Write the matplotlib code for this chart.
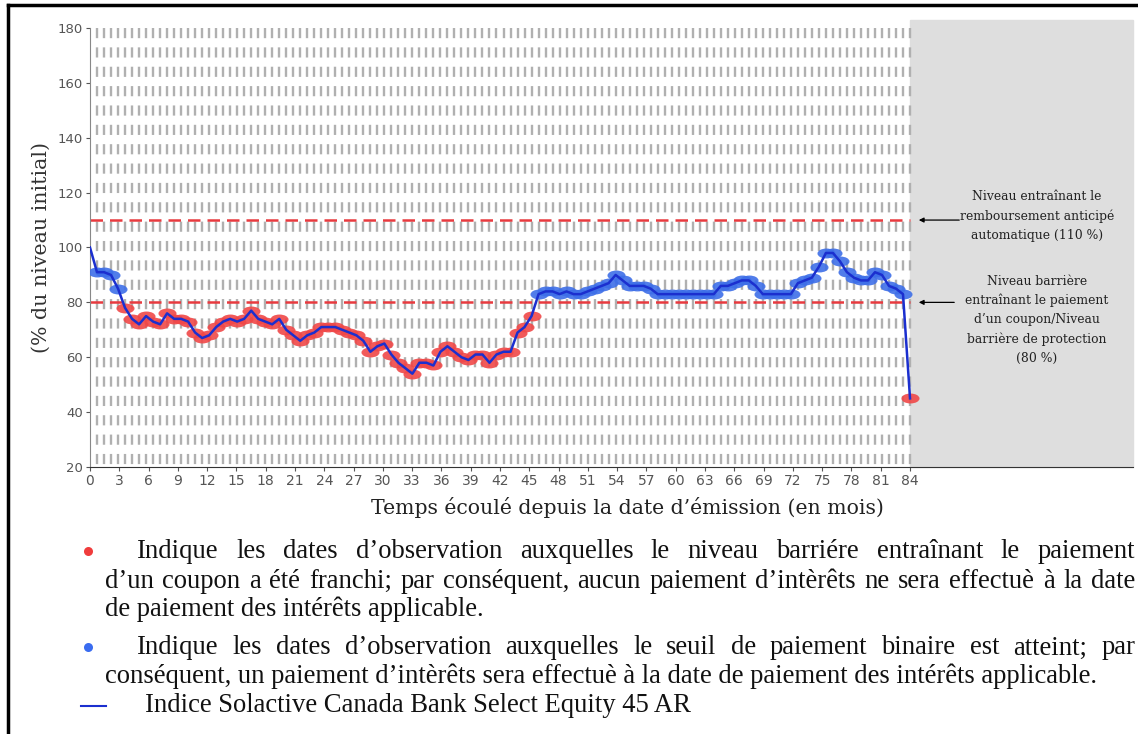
#recreation of the index performance chart (barrier / autocall levels)

import matplotlib
matplotlib.use("Agg")
import matplotlib.pyplot as plt
from matplotlib.path import Path
from matplotlib.transforms import Affine2D
from matplotlib.markers import MarkerStyle
from matplotlib.lines import Line2D
import numpy as np

#index level (% of initial level), start value then one value per observation date
start_value = 100
obs_values = [91, 91, 90, 85, 78, 74, 72, 75, 73, 72,
              76, 74, 74, 73, 69, 67, 68, 71, 73, 74,
              73, 74, 77, 74, 73, 72, 74, 70, 68, 66,
              68, 69, 71, 71, 71, 70, 69, 68, 66, 62,
              64, 65, 61, 58, 56, 54, 58, 58, 57, 62,
              64, 62, 60, 59, 61, 61, 58, 61, 62, 62,
              69, 71, 75, 83, 84, 84, 83, 84, 83, 83,
              84, 85, 86, 87, 90, 88, 86, 86, 86, 85,
              83, 83, 83, 83, 83, 83, 83, 83, 83, 86,
              86, 87, 88, 88, 86, 83, 83, 83, 83, 83,
              87, 88, 89, 93, 98, 98, 95, 91, 89, 88,
              88, 91, 90, 86, 85, 83, 45]

term_months = 84
barrier = 80
autocall = 110
x_ticks = list(range(0, 85, 3))
y_ticks = list(range(20, 181, 20))

n_obs = len(obs_values)
obs_months = np.arange(1, n_obs + 1) * term_months / n_obs
vals = np.array(obs_values)

W, H = 1138, 734
fig = plt.figure(figsize=(W / 100, H / 100), dpi=100)
ax = fig.add_axes([90 / W, 1 - 467 / H, (1133 - 90) / W, (467 - 28) / H])

x_max = (1133 - 90) / 9.762
ax.set_xlim(0, x_max)
ax.set_ylim(20, 180)

#grey zone after maturity
ax.axvspan(term_months, x_max, ymin=0, ymax=1.018, color="#dedede", zorder=0, clip_on=False)

#vertical dashed lines at each observation date
ax.vlines(obs_months, 180, 20, colors="#b0b0b0", linewidth=1.7,
          linestyles=[(0, (4.3, 3.9))], zorder=1)

#barrier and autocall levels
ax.plot([0, term_months], [autocall, autocall], color="#e83a3f", lw=1.8,
        dashes=(5, 2.8), zorder=2)
ax.plot([0, term_months], [barrier, barrier], color="#e83a3f", lw=1.8,
        dashes=(5, 2.8), zorder=2)

#ellipse markers
ell = Path.unit_circle().transformed(Affine2D().scale(1.0, 0.55))
mk = MarkerStyle(ell)

below = vals < barrier
ax.plot(obs_months[below], vals[below], linestyle="none", marker=mk, markersize=13,
        color="#f04848", markeredgewidth=0, alpha=0.9, zorder=3)
ax.plot(obs_months[~below], vals[~below], linestyle="none", marker=mk, markersize=13,
        color="#3e6fe8", markeredgewidth=0, alpha=0.9, zorder=3)

#index line
ax.plot(np.concatenate([[0], obs_months]), np.concatenate([[start_value], vals]),
        color="#1b2fcf", lw=1.8, zorder=4)

for side in ["top", "right"]:
    ax.spines[side].set_visible(False)
ax.spines["left"].set_color("#888888")
ax.spines["bottom"].set_color("#333333")

ax.set_xticks(x_ticks)
ax.set_yticks(y_ticks)
ax.tick_params(axis="both", labelsize=9.5, colors="#555555", length=3, width=0.8, pad=2)
ax.tick_params(axis="x", labelsize=10)

ax.set_ylabel("(% du niveau initial)", family="DejaVu Serif", fontsize=14.8,
              color="#333333", labelpad=5)
fig.text(627 / W, 1 - 507 / H, "Temps écoulé depuis la date d’émission (en mois)",
         family="DejaVu Serif", fontsize=14.7, color="#222222", ha="center", va="center")

#annotations in the grey zone
def to_month(px):
    return (px - 90) / 9.762

ax.text(to_month(1037), 111.5, "Niveau entraînant le\nremboursement anticipé\nautomatique (110 %)",
        family="DejaVu Serif", fontsize=8.9, ha="center", va="center", linespacing=1.6,
        color="#222222")
ax.annotate("", xy=(to_month(916), autocall), xytext=(to_month(962), autocall),
            arrowprops=dict(arrowstyle="-|>", color="black", lw=0.9, mutation_scale=7))

ax.text(to_month(1037), 73.6,
        "Niveau barrière\nentraînant le paiement\nd’un coupon/Niveau\nbarrière de protection\n(80 %)",
        family="DejaVu Serif", fontsize=8.9, ha="center", va="center", linespacing=1.6,
        color="#222222")
ax.annotate("", xy=(to_month(916), barrier), xytext=(to_month(957), barrier),
            arrowprops=dict(arrowstyle="-|>", color="black", lw=0.9, mutation_scale=7))

#legend text below the chart
renderer = fig.canvas.get_renderer()
leg_font = dict(family="Liberation Serif", fontsize=19.2, color="#111111", va="center")

def put_line(text, x0, y, x1=None):
    if x1 is None:
        fig.text(x0 / W, 1 - y / H, text, **leg_font)
        return
    words = text.split(" ")
    tt = [fig.text(0, 1 - y / H, w, **leg_font) for w in words]
    widths = [t.get_window_extent(renderer).width for t in tt]
    gap = (x1 - x0 - sum(widths)) / (len(words) - 1)
    x = x0
    for t, w in zip(tt, widths):
        t.set_x(x / W)
        x += w + gap

put_line("Indique les dates d’observation auxquelles le niveau barriére entraînant le paiement", 137, 552, 1135)
put_line("d’un coupon a été franchi; par conséquent, aucun paiement d’intèrêts ne sera effectuè à la date", 105, 581, 1135)
put_line("de paiement des intérêts applicable.", 105, 609)
put_line("Indique les dates d’observation auxquelles le seuil de paiement binaire est atteint; par", 137, 648, 1135)
put_line("conséquent, un paiement d’intèrêts sera effectuè à la date de paiement des intérêts applicable.", 105, 676)
put_line("Indice Solactive Canada Bank Select Equity 45 AR", 145, 706)

fig.add_artist(Line2D([88 / W], [1 - 551 / H], marker="o", markersize=6.5,
                      color="#f03c3c", markeredgewidth=0, transform=fig.transFigure))
fig.add_artist(Line2D([88 / W], [1 - 647 / H], marker="o", markersize=6.5,
                      color="#3a6cf0", markeredgewidth=0, transform=fig.transFigure))
fig.add_artist(Line2D([81 / W, 106 / W], [1 - 706 / H, 1 - 706 / H], color="#1b2fcf",
                      lw=1.5, transform=fig.transFigure))

#black frame of the original figure
fig.add_artist(Line2D([8 / W, 8 / W], [0, 1 - 5 / H], color="black", lw=2.5,
                      transform=fig.transFigure))
fig.add_artist(Line2D([8 / W, 1], [1 - 5 / H, 1 - 5 / H], color="black", lw=2.5,
                      transform=fig.transFigure))

fig.savefig("out.png", dpi=100)
